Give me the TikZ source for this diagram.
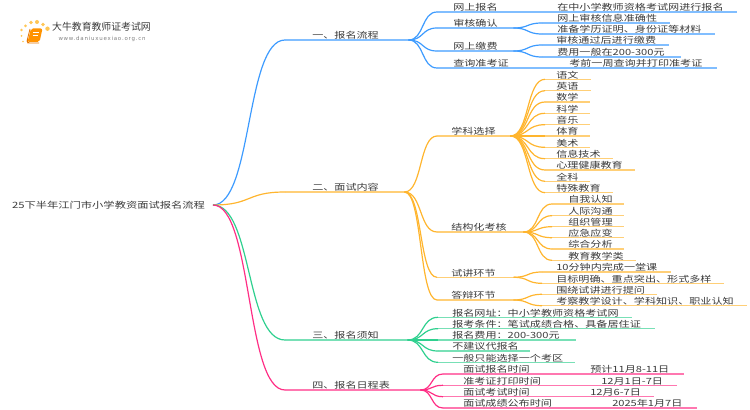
\documentclass[tikz,border=0pt]{standalone}
\usepackage{fontspec}
\usetikzlibrary{calc}
\setmainfont[FakeStretch=1.3]{Noto Sans CJK SC}
\newfontfamily\logofont{Noto Sans CJK SC}
\newfontfamily\urlfont[LetterSpace=14]{DejaVu Sans}

\definecolor{blueline}{HTML}{3D9BFF}
\definecolor{orangeline}{HTML}{FFB52E}
\definecolor{greenline}{HTML}{2FD08F}
\definecolor{pinkline}{HTML}{FF2E85}
\definecolor{inkgray}{HTML}{3A3A3A}
\definecolor{sundot}{HTML}{FFC655}

\tikzset{
  leaf/.style 2 args={anchor=south west, inner xsep=0pt, inner ysep=0.2pt, text width=#1*0.75pt, align=left,
    font=\fontsize{6.4}{7}\selectfont, text=inkgray, text depth=0.5pt, text height=6pt,
    execute at begin node={\hspace*{\dimexpr #2pt*3/4\relax}}},
  wire/.style={line width=0.85pt, #1!65!white},
  link/.style={line width=0.9pt, #1, to path={let \p1=(\tikztostart),\p2=(\tikztotarget),\n1={0.55*(\x2-\x1)} in
    .. controls (\x1+\n1,\y1) and (\x2-\n1,\y2) .. (\tikztotarget)}},
}

\begin{document}
\begin{tikzpicture}[x=0.75pt,y=-0.75pt]
\useasboundingbox (0,0) rectangle (750,410);

% ---------- logo ----------
\foreach \px/\py/\pr in {21.5/30/1.3,25.5/26/1.5,31/22.5/1.8,37/22/2,43/24.5/1.8,47.5/28.7/2.2,21.5/36/1,23/41.5/0.8}
  \fill[sundot] (\px,\py) circle (\pr);
\fill[orange!85!yellow,rounded corners=1.5] (31,28.5) -- (42.5,28.5) -- (39.5,42) -- (27.5,42) -- cycle;
\draw[orange!90!black,line width=0.6pt,rounded corners=1] (30,29) -- (27,41) -- (28,43) -- (39,43);
\draw[white,line width=0.6pt] (33,32) -- (39,32) (32.5,35) -- (38,35);
\node[font=\logofont\fontsize{7.4}{9}\selectfont,text=inkgray,inner sep=0pt] (logoname) at (101.5,27) {大牛教育教师证考试网};
\node[font=\urlfont\fontsize{4.1}{5}\selectfont,text=gray,inner sep=0pt] (logourl) at (102,39) {www.daniuxuexiao.org.cn};

% ---------- root ----------
\node[font=\fontsize{6.5}{8}\selectfont,text=inkgray,inner sep=0pt] (root) at (108.5,205) {25下半年江门市小学教资面试报名流程};
\coordinate (rootend) at (213,205);

% ---------- first branch ----------
\node[leaf={123}{27}] (liucheng) at (285,40) {一、报名流程};
\draw[wire=blueline] (liucheng.south west) -- (liucheng.south east);
\draw[link=blueline] (rootend) to (liucheng.south west);

\node[leaf={76}{16}] (wangbao) at (437,12) {网上报名};
\node[leaf={223}{44}] (wangbaoinfo) at (513,12) {在中小学教师资格考试网进行报名};
\draw[wire=blueline] (wangbao.south west) -- (wangbaoinfo.south east);
\draw[link=blueline] (liucheng.south east) to (wangbao.south west);

\node[leaf={76}{16}] (shenhe) at (437,28) {审核确认};
\node[leaf={127}{15}] (shenxin) at (542,23) {网上审核信息准确性};
\node[leaf={172}{15}] (shencai) at (542,34) {准备学历证明、身份证等材料};
\draw[wire=blueline] (shenhe.south west) -- (shenhe.south east);
\draw[link=blueline] (liucheng.south east) to (shenhe.south west);
\draw[wire=blueline] (shenxin.south west) -- (shenxin.south east);
\draw[link=blueline] (shenhe.south east) to (shenxin.south west);
\draw[wire=blueline] (shencai.south west) -- (shencai.south east);
\draw[link=blueline] (shenhe.south east) to (shencai.south west);

\node[leaf={76}{16}] (jiaofei) at (437,51) {网上缴费};
\node[leaf={126}{14}] (jiaotong) at (542,45) {审核通过后进行缴费};
\node[leaf={138}{15}] (jiaoyong) at (542,57) {费用一般在200-300元};
\draw[wire=blueline] (jiaofei.south west) -- (jiaofei.south east);
\draw[link=blueline] (liucheng.south east) to (jiaofei.south west);
\draw[wire=blueline] (jiaotong.south west) -- (jiaotong.south east);
\draw[link=blueline] (jiaofei.south east) to (jiaotong.south west);
\draw[wire=blueline] (jiaoyong.south west) -- (jiaoyong.south east);
\draw[link=blueline] (jiaofei.south east) to (jiaoyong.south west);

\node[leaf={76}{16}] (chaxun) at (437,68) {查询准考证};
\node[leaf={203}{56}] (chaxuninfo) at (513,68) {考前一周查询并打印准考证};
\draw[wire=blueline] (chaxun.south west) -- (chaxuninfo.south east);
\draw[link=blueline] (liucheng.south east) to (chaxun.south west);

% ---------- second branch ----------
\node[leaf={119}{27}] (neirong) at (285,192) {二、面试内容};
\draw[wire=orangeline] (neirong.south west) -- (neirong.south east);
\draw[link=orangeline] (rootend) to (neirong.south west);

\node[leaf={73}{14}] (xueke) at (437,136) {学科选择};
\draw[wire=orangeline] (xueke.south west) -- (xueke.south east);
\draw[link=orangeline] (neirong.south east) to (xueke.south west);

\node[leaf={45}{11}] (yuwen) at (545,79.3) {语文};
\draw[wire=orangeline] (yuwen.south west) -- (yuwen.south east);
\draw[link=orangeline] (xueke.south east) to (yuwen.south west);
\node[leaf={45}{11}] (yingyu) at (545,90.7) {英语};
\draw[wire=orangeline] (yingyu.south west) -- (yingyu.south east);
\draw[link=orangeline] (xueke.south east) to (yingyu.south west);
\node[leaf={44}{11}] (shuxue) at (545,102) {数学};
\draw[wire=orangeline] (shuxue.south west) -- (shuxue.south east);
\draw[link=orangeline] (xueke.south east) to (shuxue.south west);
\node[leaf={44}{11}] (kexue) at (545,113.3) {科学};
\draw[wire=orangeline] (kexue.south west) -- (kexue.south east);
\draw[link=orangeline] (xueke.south east) to (kexue.south west);
\node[leaf={44}{11}] (yinyue) at (545,124.7) {音乐};
\draw[wire=orangeline] (yinyue.south west) -- (yinyue.south east);
\draw[link=orangeline] (xueke.south east) to (yinyue.south west);
\node[leaf={44}{11}] (tiyu) at (545,136) {体育};
\draw[wire=orangeline] (tiyu.south west) -- (tiyu.south east);
\draw[link=orangeline] (xueke.south east) to (tiyu.south west);
\node[leaf={44}{11}] (meishu) at (545,147.3) {美术};
\draw[wire=orangeline] (meishu.south west) -- (meishu.south east);
\draw[link=orangeline] (xueke.south east) to (meishu.south west);
\node[leaf={67}{11}] (xinxi) at (545,158.7) {信息技术};
\draw[wire=orangeline] (xinxi.south west) -- (xinxi.south east);
\draw[link=orangeline] (xueke.south east) to (xinxi.south west);
\node[leaf={89}{11}] (xinli) at (545,170) {心理健康教育};
\draw[wire=orangeline] (xinli.south west) -- (xinli.south east);
\draw[link=orangeline] (xueke.south east) to (xinli.south west);
\node[leaf={44}{11}] (quanke) at (545,181.3) {全科};
\draw[wire=orangeline] (quanke.south west) -- (quanke.south east);
\draw[link=orangeline] (xueke.south east) to (quanke.south west);
\node[leaf={67}{11}] (teshu) at (545,192.7) {特殊教育};
\draw[wire=orangeline] (teshu.south west) -- (teshu.south east);
\draw[link=orangeline] (xueke.south east) to (teshu.south west);

\node[leaf={86}{14}] (jiegou) at (437,232) {结构化考核};
\draw[wire=orangeline] (jiegou.south west) -- (jiegou.south east);
\draw[link=orangeline] (neirong.south east) to (jiegou.south west);

\node[leaf={71}{16}] (ziwo) at (552,204) {自我认知};
\draw[wire=orangeline] (ziwo.south west) -- (ziwo.south east);
\draw[link=orangeline] (jiegou.south east) to (ziwo.south west);
\node[leaf={71}{16}] (renji) at (552,215.7) {人际沟通};
\draw[wire=orangeline] (renji.south west) -- (renji.south east);
\draw[link=orangeline] (jiegou.south east) to (renji.south west);
\node[leaf={71}{16}] (zuzhi) at (552,226.7) {组织管理};
\draw[wire=orangeline] (zuzhi.south west) -- (zuzhi.south east);
\draw[link=orangeline] (jiegou.south east) to (zuzhi.south west);
\node[leaf={71}{16}] (yingji) at (552,237.7) {应急应变};
\draw[wire=orangeline] (yingji.south west) -- (yingji.south east);
\draw[link=orangeline] (jiegou.south east) to (yingji.south west);
\node[leaf={71}{16}] (zonghe) at (552,249) {综合分析};
\draw[wire=orangeline] (zonghe.south west) -- (zonghe.south east);
\draw[link=orangeline] (jiegou.south east) to (zonghe.south west);
\node[leaf={83}{16}] (jiaoyu) at (552,260.3) {教育教学类};
\draw[wire=orangeline] (jiaoyu.south west) -- (jiaoyu.south east);
\draw[link=orangeline] (jiegou.south east) to (jiaoyu.south west);

\node[leaf={76}{14}] (shijiang) at (437,277.3) {试讲环节};
\node[leaf={128}{14}] (shitang) at (542,272) {10分钟内完成一堂课};
\node[leaf={181}{14}] (shimu) at (542,283.3) {目标明确、重点突出、形式多样};
\draw[wire=orangeline] (shijiang.south west) -- (shijiang.south east);
\draw[link=orangeline] (neirong.south east) to (shijiang.south west);
\draw[wire=orangeline] (shitang.south west) -- (shitang.south east);
\draw[link=orangeline] (shijiang.south east) to (shitang.south west);
\draw[wire=orangeline] (shimu.south west) -- (shimu.south east);
\draw[link=orangeline] (shijiang.south east) to (shimu.south west);

\node[leaf={76}{14}] (dabian) at (437,300) {答辩环节};
\node[leaf={114}{14}] (datiwen) at (542,294.3) {围绕试讲进行提问};
\node[leaf={204}{14}] (dakao) at (542,305.7) {考察教学设计、学科知识、职业认知};
\draw[wire=orangeline] (dabian.south west) -- (dabian.south east);
\draw[link=orangeline] (neirong.south east) to (dabian.south west);
\draw[wire=orangeline] (datiwen.south west) -- (datiwen.south east);
\draw[link=orangeline] (dabian.south east) to (datiwen.south west);
\draw[wire=orangeline] (dakao.south west) -- (dakao.south east);
\draw[link=orangeline] (dabian.south east) to (dakao.south west);

% ---------- third branch ----------
\node[leaf={122}{27}] (xuzhi) at (285,340) {三、报名须知};
\draw[wire=greenline] (xuzhi.south west) -- (xuzhi.south east);
\draw[link=greenline] (rootend) to (xuzhi.south west);

\node[leaf={193}{14}] (wangzhi) at (438,317.3) {报名网址：中小学教师资格考试网};
\draw[wire=greenline] (wangzhi.south west) -- (wangzhi.south east);
\draw[link=greenline] (xuzhi.south east) to (wangzhi.south west);
\node[leaf={216}{14}] (tiaojian) at (438,328.7) {报考条件：笔试成绩合格、具备居住证};
\draw[wire=greenline] (tiaojian.south west) -- (tiaojian.south east);
\draw[link=greenline] (xuzhi.south east) to (tiaojian.south west);
\node[leaf={137}{14}] (feiyong) at (438,340) {报名费用：200-300元};
\draw[wire=greenline] (feiyong.south west) -- (feiyong.south east);
\draw[link=greenline] (xuzhi.south east) to (feiyong.south west);
\node[leaf={91}{14}] (daibao) at (438,351) {不建议代报名};
\draw[wire=greenline] (daibao.south west) -- (daibao.south east);
\draw[link=greenline] (xuzhi.south east) to (daibao.south west);
\node[leaf={136}{14}] (kaoqu) at (438,362.3) {一般只能选择一个考区};
\draw[wire=greenline] (kaoqu.south west) -- (kaoqu.south east);
\draw[link=greenline] (xuzhi.south east) to (kaoqu.south west);

% ---------- fourth branch ----------
\node[leaf={135}{27}] (richeng) at (285,390) {四、报名日程表};
\draw[wire=pinkline] (richeng.south west) -- (richeng.south east);
\draw[link=pinkline] (rootend) to (richeng.south west);

\node[leaf={97}{20}] (baotime) at (443,374) {面试报名时间};
\node[leaf={143}{50}] (baodate) at (540,374) {预计11月8-11日};
\draw[wire=pinkline] (baotime.south west) -- (baodate.south east);
\draw[link=pinkline] (richeng.south east) to (baotime.south west);

\node[leaf={97}{20}] (daytime) at (443,385.3) {准考证打印时间};
\node[leaf={136}{61}] (daydate) at (540,385.3) {12月1日-7日};
\draw[wire=pinkline] (daytime.south west) -- (daydate.south east);
\draw[link=pinkline] (richeng.south east) to (daytime.south west);

\node[leaf={97}{20}] (kaotime) at (443,396.7) {面试考试时间};
\node[leaf={113}{50}] (kaodate) at (540,396.7) {12月6-7日};
\draw[wire=pinkline] (kaotime.south west) -- (kaodate.south east);
\draw[link=pinkline] (richeng.south east) to (kaotime.south west);

\node[leaf={97}{20}] (chengtime) at (443,408) {面试成绩公布时间};
\node[leaf={156}{72}] (chengdate) at (540,408) {2025年1月7日};
\draw[wire=pinkline] (chengtime.south west) -- (chengdate.south east);
\draw[link=pinkline] (richeng.south east) to (chengtime.south west);

\end{tikzpicture}
\end{document}
